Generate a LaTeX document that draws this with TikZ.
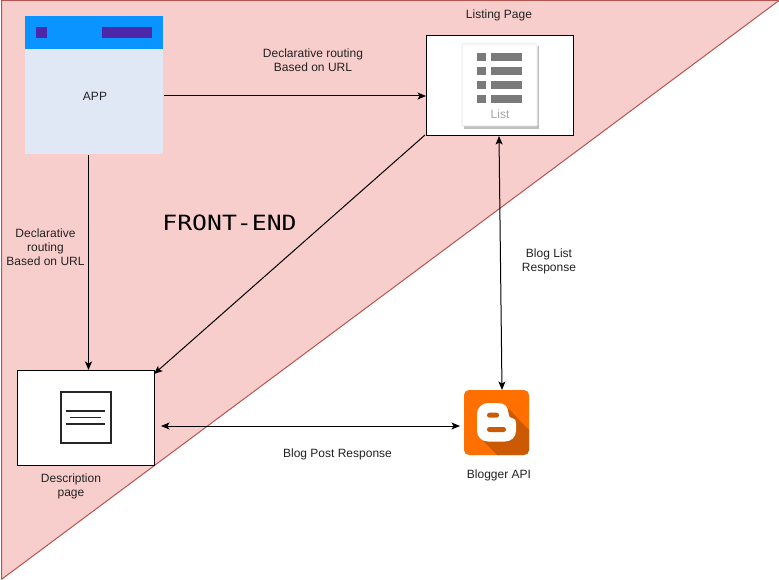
\documentclass[tikz,border=0pt]{standalone}
\usepackage{fontspec}
\setmainfont{Liberation Sans}
\newfontfamily\monof[FakeStretch=1.18]{DejaVu Sans Mono}
\usetikzlibrary{arrows.meta}
\definecolor{tripink}{HTML}{F8CECC}
\definecolor{triedge}{HTML}{B85450}
\definecolor{appblue}{HTML}{0994FF}
\definecolor{apppurple}{HTML}{4D27AA}
\definecolor{appbody}{HTML}{E0E7F5}
\definecolor{listgrey}{HTML}{7A7A7A}
\definecolor{bloggerorange}{HTML}{FF7000}
\definecolor{bloggershadow}{HTML}{CC5A05}
\definecolor{labelgrey}{HTML}{222222}
\tikzset{
  x=1pt,y=-1pt,
  lbl/.style={font=\fontsize{12}{14}\selectfont,text=labelgrey,align=center,inner sep=0pt},
  conn/.style={draw=black,line width=1pt,-{Stealth[length=8.5pt,width=7pt,inset=2pt]}},
  bidir/.style={draw=black,line width=1pt,{Stealth[length=8.5pt,width=7pt,inset=2pt]}-{Stealth[length=8.5pt,width=7pt,inset=2pt]}},
  pagebox/.style={draw=black,fill=white,line width=1pt,inner sep=0pt,outer sep=0pt,anchor=north west},
}
\begin{document}
\begin{tikzpicture}
\useasboundingbox (0,0) rectangle (779,580);
\fill[white] (0,0) rectangle (779,580);
% front-end triangle
\draw[fill=tripink,draw=triedge,line width=1pt] (1.5,0.5) -- (779,0.5) -- (2,579) -- (1.5,579) -- cycle;
% App
\node[fill=appbody,inner sep=0pt,outer sep=0pt,minimum width=138pt,minimum height=138pt,anchor=north west] (app) at (25,16) {};
\fill[appblue] (25,16) rectangle (163,49);
\fill[apppurple] (36,27) rectangle (47,38);
\fill[apppurple] (102,27) rectangle (152,38);
\node[lbl] (applbl) at (95,96) {APP};
% Listing page
\node[pagebox,minimum width=147pt,minimum height=100pt] (listing) at (426,35.5) {};
\fill[black!25] (464,46) rectangle (539,129);
\draw[fill=white,draw=black!8,line width=1pt,rounded corners=1pt] (462,44) rectangle (537,126);
\foreach \yy in {53,67,81,95}{
  \fill[listgrey] (477,\yy) rectangle (485.5,\yy+8);
  \fill[listgrey] (491,\yy) rectangle (522,\yy+8);
}
\node[font=\fontsize{12}{14}\selectfont,text=black!35,inner sep=0pt] (listlbl) at (500,114) {List};
\node[lbl] (listcap) at (499,15) {Listing Page};
% Description page
\node[pagebox,minimum width=137pt,minimum height=95pt] (desc) at (17.5,370.5) {};
\draw[draw=black!85,line width=2pt] (60.5,392) rectangle (110.5,442.5);
\draw[black!85,line width=1.7pt] (66,411) -- (105,411);
\draw[black!85,line width=1.7pt] (70,417.5) -- (101,417.5);
\draw[black!85,line width=1.7pt] (66,424) -- (105,424);
\node[lbl] (desccap) at (71,486) {Description\\page};
% Blogger
\node[fill=bloggerorange,rounded corners=5pt,inner sep=0pt,outer sep=0pt,minimum width=65pt,minimum height=65pt,anchor=north west] (blogger) at (464,390) {};
\begin{scope}
\clip[rounded corners=5pt] (464,390) rectangle (529,455);
\fill[bloggershadow] (507,407) -- (530,431) -- (530,456) -- (498,456) -- (483,441) -- cycle;
\end{scope}
\fill[white] (488,403) -- (498,403) .. controls (505,403) and (508,407) .. (508.5,413)
  .. controls (508.7,417) and (510,418) .. (513,418.5)
  .. controls (515,419) and (516,420) .. (516,423) -- (516,431)
  .. controls (516,437) and (511,441.5) .. (505,441.5) -- (488,441.5)
  .. controls (482,441.5) and (477,437) .. (477,431) -- (477,414)
  .. controls (477,408) and (482,403) .. (488,403) -- cycle;
\fill[bloggershadow,rounded corners=2.4pt] (487,412.7) rectangle (499,417.7);
\fill[bloggershadow,rounded corners=2.4pt] (487,427) rectangle (506,432);
\node[lbl] (bloggercap) at (499,475.5) {Blogger API};
% labels
\node[lbl] (l1) at (313,60) {Declarative routing\\Based on URL};
\node[lbl] (l2) at (45.5,247) {Declarative\\routing\\Based on URL};
\node[lbl] (l3) at (549,261) {Blog List\\Response};
\node[lbl] (l4) at (337.5,454.5) {Blog Post Response};
\node[font=\monof\fontsize{21}{25}\selectfont,inner sep=0pt,text=black] (fe) at (229.5,223) {FRONT-END};
% connectors
\draw[conn] (164,96) -- (listing.west |- 0,96);
\draw[conn] (88.5,155) -- (88.5,370);
\draw[conn] (425,135) -- (154,374);
\draw[bidir] (499,136) -- (502,390);
\draw[bidir] (161,426) -- (460,426);
\end{tikzpicture}
\end{document}
